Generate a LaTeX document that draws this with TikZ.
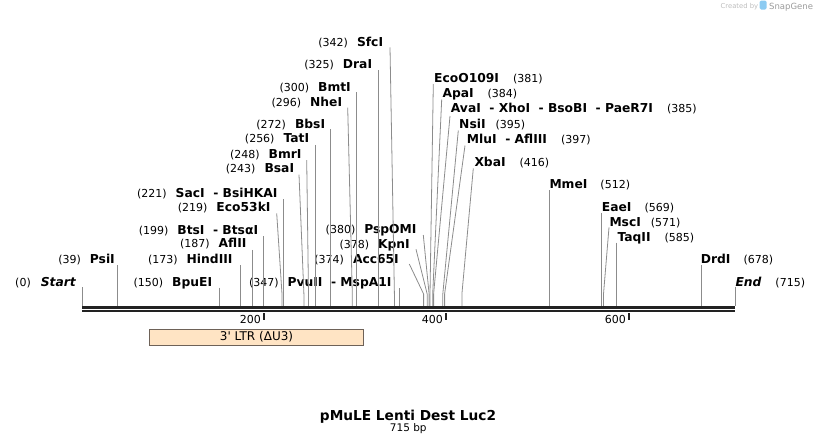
\documentclass[tikz,border=0pt]{standalone}
\usepackage{fontspec}
\setmainfont{DejaVu Sans}
\newcommand\enz[1]{{\fontsize{12.3}{14}\selectfont\bfseries #1}}
\newcommand\bpn[1]{{\fontsize{11}{13}\selectfont #1}}
\definecolor{cutgray}{HTML}{8C8C8C}
\definecolor{barblack}{HTML}{222222}
\definecolor{ltrfill}{HTML}{FFE4C4}
\definecolor{ltrdraw}{HTML}{6E6258}
\definecolor{logoblue}{HTML}{8CCBF2}
\definecolor{logogray}{HTML}{9A9A9A}
\begin{document}
\begin{tikzpicture}[x=1pt,y=-1pt,
    enzl/.style={anchor=base east,inner sep=0pt},
    enzr/.style={anchor=base west,inner sep=0pt},
    cut/.style={draw=cutgray,line width=0.8pt},
    bar/.style={draw=barblack,line width=2.6pt},
    tick/.style={draw=barblack,line width=1.6pt},
    ticklbl/.style={anchor=base east,inner sep=0pt,font=\fontsize{11}{13}\selectfont},
    ltr/.style={draw=ltrdraw,fill=ltrfill,line width=0.8pt,minimum width=214.4pt,
      minimum height=15.7pt,inner sep=0pt,font=\fontsize{12}{14}\selectfont}]
  \useasboundingbox (0,0) rectangle (818,445);

  % sites on the sequence
  \path
    (82,306) coordinate (s0)
    (117.6,306) coordinate (s39)
    (219,306) coordinate (s150)
    (240,306) coordinate (s173)
    (252.8,306) coordinate (s187)
    (263.7,306) coordinate (s199)
    (282,306) coordinate (s219)
    (283.8,306) coordinate (s221)
    (303.9,306) coordinate (s243)
    (308.5,306) coordinate (s248)
    (315.8,306) coordinate (s256)
    (330.4,306) coordinate (s272)
    (352.3,306) coordinate (s296)
    (356,306) coordinate (s300)
    (378.8,306) coordinate (s325)
    (394.4,306) coordinate (s342)
    (398.9,306) coordinate (s347)
    (423.6,306) coordinate (s374)
    (427.2,306) coordinate (s378)
    (429.1,306) coordinate (s380)
    (430,306) coordinate (s381)
    (432.7,306) coordinate (s384)
    (433.6,306) coordinate (s385)
    (442.8,306) coordinate (s395)
    (444.6,306) coordinate (s397)
    (461.9,306) coordinate (s416)
    (549.6,306) coordinate (s512)
    (601.7,306) coordinate (s569)
    (603.5,306) coordinate (s571)
    (616.3,306) coordinate (s585)
    (701.2,306) coordinate (s678)
    (735,306) coordinate (s715);

  % labels left of their line
  \path
    (76,286.2) node[enzl] (start) {\bpn{(0)}\hspace{10pt}\enz{\itshape Start}}
    (115,263.5) node[enzl] (psii) {\bpn{(39)}\hspace{9pt}\enz{PsiI}}
    (212.3,286.5) node[enzl] (bpuei) {\bpn{(150)}\hspace{9pt}\enz{BpuEI}}
    (232.7,263.5) node[enzl] (hindiii) {\bpn{(173)}\hspace{9pt}\enz{HindIII}}
    (246.7,247.8) node[enzl] (aflii) {\bpn{(187)}\hspace{9pt}\enz{AflII}}
    (258.3,234.5) node[enzl] (btsi) {\bpn{(199)}\hspace{9pt}\enz{BtsI~~- BtsαI}}
    (270.7,211.8) node[enzl] (eco53ki) {\bpn{(219)}\hspace{9pt}\enz{Eco53kI}}
    (277.7,197.2) node[enzl] (saci) {\bpn{(221)}\hspace{9pt}\enz{SacI~~- BsiHKAI}}
    (294.3,172.8) node[enzl] (bsai) {\bpn{(243)}\hspace{9pt}\enz{BsaI}}
    (301.7,158.5) node[enzl] (bmri) {\bpn{(248)}\hspace{9pt}\enz{BmrI}}
    (309.3,142.8) node[enzl] (tati) {\bpn{(256)}\hspace{9pt}\enz{TatI}}
    (325.3,128.8) node[enzl] (bbsi) {\bpn{(272)}\hspace{9pt}\enz{BbsI}}
    (342.3,106.2) node[enzl] (nhei) {\bpn{(296)}\hspace{9pt}\enz{NheI}}
    (351,91.2) node[enzl] (bmti) {\bpn{(300)}\hspace{9pt}\enz{BmtI}}
    (372.3,68.5) node[enzl] (drai) {\bpn{(325)}\hspace{9pt}\enz{DraI}}
    (383.3,46.8) node[enzl] (sfci) {\bpn{(342)}\hspace{9pt}\enz{SfcI}}
    (391.7,286.5) node[enzl] (pvuii) {\bpn{(347)}\hspace{9pt}\enz{PvuII~~- MspA1I}}
    (399,263.5) node[enzl] (acc65i) {\bpn{(374)}\hspace{9pt}\enz{Acc65I}}
    (410,248.5) node[enzl] (kpni) {\bpn{(378)}\hspace{9pt}\enz{KpnI}}
    (416.7,233.5) node[enzl] (pspomi) {\bpn{(380)}\hspace{9pt}\enz{PspOMI}};

  % labels right of their line
  \path
    (434,82.5) node[enzr] (ecoo109i) {\enz{EcoO109I}\hspace{14pt}\bpn{(381)}}
    (442.3,97.5) node[enzr] (apai) {\enz{ApaI}\hspace{14pt}\bpn{(384)}}
    (450.7,112.5) node[enzr] (avai) {\enz{AvaI~~- XhoI~~- BsoBI~~- PaeR7I}\hspace{14pt}\bpn{(385)}}
    (459,128.5) node[enzr] (nsii) {\enz{NsiI}\hspace{10pt}\bpn{(395)}}
    (466.7,143.5) node[enzr] (mlui) {\enz{MluI~~- AflIII}\hspace{14pt}\bpn{(397)}}
    (474.3,166.5) node[enzr] (xbai) {\enz{XbaI}\hspace{14pt}\bpn{(416)}}
    (549.3,188.5) node[enzr] (mmei) {\enz{MmeI}\hspace{13pt}\bpn{(512)}}
    (601.7,211.8) node[enzr] (eaei) {\enz{EaeI}\hspace{13pt}\bpn{(569)}}
    (609.3,226.2) node[enzr] (msci) {\enz{MscI}\hspace{10pt}\bpn{(571)}}
    (617.3,241.2) node[enzr] (taqii) {\enz{TaqII}\hspace{14pt}\bpn{(585)}}
    (700.7,263.8) node[enzr] (drdi) {\enz{DrdI}\hspace{13pt}\bpn{(678)}}
    (735.3,286.2) node[enzr] (endl) {\enz{\itshape End}\hspace{14pt}\bpn{(715)}};

  \begin{scope}[cut]
    \draw (s0 |- start.base) ++(0,1) -- (s0);
    \draw (s39 |- psii.base) ++(0,1.5) -- (s39);
    \draw (s150 |- bpuei.base) ++(0,1) -- (s150);
    \draw (s173 |- hindiii.base) ++(0,1.5) -- (s173);
    \draw (s187 |- aflii.base) ++(0,2) -- (s187);
    \draw (s199 |- btsi.base) ++(0,1.5) -- (s199);
    \draw (eco53ki.base east) ++(6,1.5) -- ([yshift=12pt]s219) -- (s219);
    \draw (s221 |- saci.base) ++(0,1.8) -- (s221);
    \draw (bsai.base east) ++(4.7,1.9) -- ([yshift=12pt]s243) -- (s243);
    \draw (bmri.base east) ++(5,1.5) -- ([yshift=12pt]s248) -- (s248);
    \draw (s256 |- tati.base) ++(0,2) -- (s256);
    \draw (s272 |- bbsi.base) ++(0,0.5) -- (s272);
    \draw (nhei.base east) ++(5.4,1.5) -- ([yshift=12pt]s296) -- (s296);
    \draw (s300 |- bmti.base) ++(0,1) -- (s300);
    \draw (s325 |- drai.base) ++(0,1.5) -- (s325);
    \draw (sfci.base east) ++(6.7,0.5) -- ([yshift=12pt]s342) -- (s342);
    \draw (s347 |- pvuii.base) ++(0,1.5) -- (s347);
    \draw (acc65i.base east) ++(10.3,0.5) -- ([yshift=12pt]s374) -- (s374);
    \draw (kpni.base east) ++(6,0.8) -- ([yshift=12pt]s378) -- (s378);
    \draw (pspomi.base east) ++(6.6,1.5) -- ([yshift=12pt]s380) -- (s380);
    \draw (ecoo109i.base west) ++(-0.7,1.5) -- ([yshift=12pt]s381) -- (s381);
    \draw (apai.base west) ++(-0.6,2) -- ([yshift=12pt]s384) -- (s384);
    \draw (avai.base west) ++(-0.7,3.5) -- ([yshift=12pt]s385) -- (s385);
    \draw (nsii.base west) ++(-0.7,2) -- ([yshift=12pt]s395) -- (s395);
    \draw (mlui.base west) ++(-1.7,2) -- ([yshift=12pt]s397) -- (s397);
    \draw (xbai.base west) ++(-1,1.8) -- ([yshift=12pt]s416) -- (s416);
    \draw (s512 |- mmei.base) ++(0,1.5) -- (s512);
    \draw (s569 |- eaei.base) ++(0,1) -- (s569);
    \draw (msci.base west) ++(-0.3,1.1) -- ([yshift=12pt]s571) -- (s571);
    \draw (s585 |- taqii.base) ++(0,1.5) -- (s585);
    \draw (s678 |- drdi.base) ++(0,1.2) -- (s678);
    \draw (s715 |- endl.base) ++(0,0.5) -- (s715);
  \end{scope}

  % sequence bar and ruler
  \coordinate (barL) at (82,307.3);
  \coordinate (barR) at (735,307.3);
  \draw[bar] (barL) -- (barR);
  \draw[bar,line width=2.2pt] ([yshift=-4pt]barL) -- ([yshift=-4pt]barR);
  \draw[tick] (264,313) -- ++(0,6.5);
  \draw[tick] (446,313) -- ++(0,6.5);
  \draw[tick] (629,313) -- ++(0,6.5);
  \node[ticklbl] (l200) at (261,323) {200};
  \node[ticklbl] (l400) at (443,323) {400};
  \node[ticklbl] (l600) at (626,323) {600};

  % feature
  \node[ltr] (ltr) at (256.5,337.2) {3\textquotesingle{} LTR (ΔU3)};

  % title
  \node[anchor=base,inner sep=0pt,font=\fontsize{13.7}{16}\selectfont\bfseries] (title)
    at (408,420.3) {pMuLE Lenti Dest Luc2};
  \node[anchor=base,inner sep=0pt,font=\fontsize{10.5}{12}\selectfont] (size)
    at (408.3,431) {715 bp};

  % logo
  \node[anchor=base west,inner sep=0pt,text=logogray!65,font=\fontsize{6.8}{8}\selectfont]
    (created) at (720.5,8.5) {Created by};
  \fill[logoblue,rounded corners=1.5pt] (759.5,0.5) rectangle (766.5,9.5);
  \node[anchor=base west,inner sep=0pt,text=logogray,font=\fontsize{8.5}{10}\selectfont]
    (snapgene) at (769,9.2) {SnapGene};
\end{tikzpicture}
\end{document}
